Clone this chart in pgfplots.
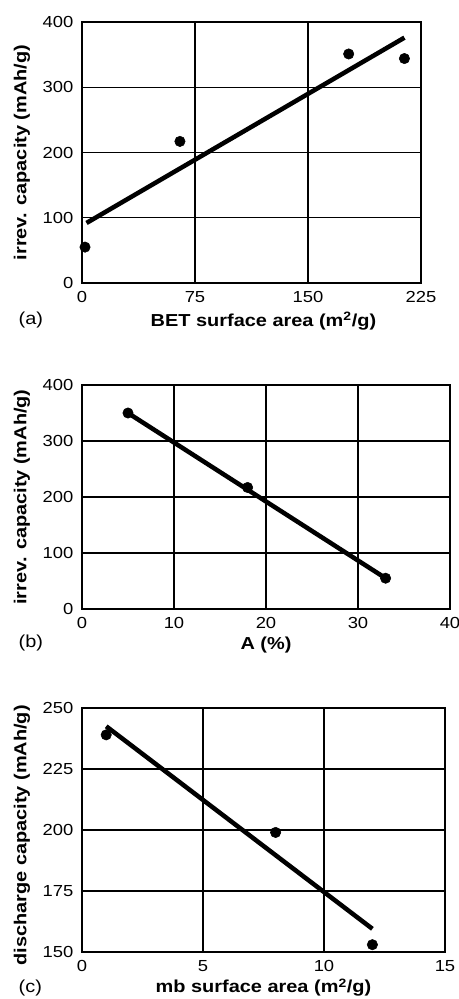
\documentclass[border=0pt]{standalone}
\usepackage{fontspec}
\setmainfont[FakeStretch=1.15]{Liberation Sans}
\usepackage{pgfplots}
\pgfplotsset{compat=1.18}

\pgfplotsset{
  panel/.style={
    scale only axis,
    anchor=north west,
    axis line style={black, line width=1pt},
    grid=major,
    major grid style={black, line width=1pt},
    major tick length=0pt,
    tick label style={font=\fontsize{12}{14}\selectfont},
    /pgf/number format/assume math mode=true,
    label style={font=\fontsize{13}{15}\selectfont\bfseries},
    ylabel style={at={(rel axis cs:0,0.5)}, anchor=center, yshift=45pt},
    xticklabel style={yshift=-3pt},
    yticklabel style={xshift=-3pt},
  },
  fit/.style={black, line width=3.4pt, no marks},
  pts/.style={only marks, mark=*, mark size=3.9pt, black},
}

\begin{document}
\begin{tikzpicture}
% (a)
\begin{axis}[panel, at={(0pt,0pt)},
  width=254.25pt, height=195.75pt,
  xmin=0, xmax=225, ymin=0, ymax=400,
  xtick={0,75,150,225}, ytick={0,100,200,300,400},
  xlabel={BET surface area (m\textsuperscript{2}/g)},
  ylabel={irrev. capacity (mAh/g)},
  xlabel style={xshift=9pt, yshift=0pt},
]
\addplot[fit] coordinates {(3,92) (214,376)};
\addplot[pts] coordinates {(2,55) (65,217) (177,351) (214,344)};
\end{axis}

% (b)
\begin{axis}[panel, at={(0pt,-272.25pt)},
  width=276pt, height=168pt,
  xmin=0, xmax=40, ymin=0, ymax=400,
  xtick={0,10,20,30,40}, ytick={0,100,200,300,400},
  xlabel={A (\%)},
  ylabel={irrev. capacity (mAh/g)},
  xlabel style={yshift=1pt},
]
\addplot[fit] coordinates {(5,350) (33,55)};
\addplot[pts] coordinates {(5,350) (18,217) (33,55)};
\end{axis}

% (c)
\begin{axis}[panel, at={(0pt,-514.5pt)},
  width=272.25pt, height=183pt,
  xmin=0, xmax=15, ymin=150, ymax=250,
  xtick={0,5,10,15}, ytick={150,175,200,225,250},
  xlabel={mb surface area (m\textsuperscript{2}/g)},
  ylabel={discharge capacity (mAh/g)},
  ylabel style={xshift=-4pt},
  xlabel style={yshift=2pt},
]
\addplot[fit] coordinates {(1,242.5) (12,159.5)};
\addplot[pts] coordinates {(1,239) (8,199) (12,153)};
\end{axis}

\node[anchor=west, font=\fontsize{13}{15}\selectfont] at (-51pt,-223.5pt) {(a)};
\node[anchor=west, font=\fontsize{13}{15}\selectfont] at (-51pt,-465.75pt) {(b)};
\node[anchor=west, font=\fontsize{13}{15}\selectfont] at (-51pt,-724.5pt) {(c)};

\pgfresetboundingbox
\useasboundingbox (-61.5pt,16.5pt) rectangle (282.75pt,-732.75pt);
\end{tikzpicture}
\end{document}
